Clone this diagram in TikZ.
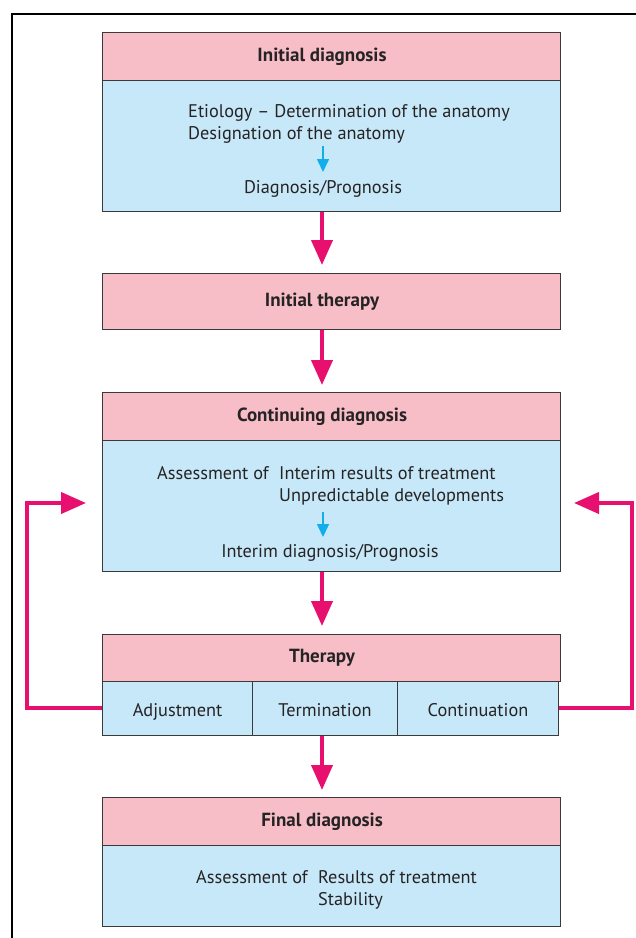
\documentclass[tikz,border=0pt]{standalone}
\usepackage{fontspec}
\setmainfont{PT Sans}
\usetikzlibrary{arrows.meta}
\definecolor{mag}{HTML}{E8106E}
\definecolor{pinkf}{HTML}{F7BEC8}
\definecolor{bluef}{HTML}{C7E8F8}
\definecolor{cyanar}{HTML}{12AEEA}
\definecolor{boxline}{HTML}{3A3A3A}
\definecolor{txt}{HTML}{262324}
\begin{document}
\begin{tikzpicture}[x=1pt,y=-1pt,
  hdr/.style={draw=boxline, fill=pinkf, line width=1.1pt, anchor=north west, inner sep=0pt,
     minimum width=458pt, minimum height=#1, text=txt, text height=13pt, text depth=4pt,
     execute at begin node={\hspace*{-19pt}},
     font=\fontsize{19}{22}\selectfont\bfseries},
  body/.style={draw=boxline, fill=bluef, line width=1.1pt, anchor=north west, inner sep=0pt,
     minimum width=458pt, minimum height=#1},
  cell/.style={draw=boxline, fill=bluef, line width=1.1pt, anchor=north west, inner sep=0pt,
     minimum height=54pt, text=txt, text height=17pt, text depth=1pt,
     font=\fontsize{18.3}{22}\selectfont},
  lbl/.style={inner sep=0pt, text=txt, font=\fontsize{18.3}{22}\selectfont},
  marr/.style={draw=mag, line width=4pt, -{Triangle[width=21pt,length=25pt]}},
  carr/.style={draw=cyanar, line width=1.6pt, -{Triangle[width=12pt,length=13pt]}}
]
\useasboundingbox (0,0) rectangle (636,938);
% frame
\draw[line width=1.3pt, black] (12,938) -- (12,14) -- (636,14);

% Box 1
\node[body=131pt] (b1) at (102,80) {};
\node[hdr=48pt] (h1) at (102,32) {Initial diagnosis};
\node[lbl, anchor=base west] (t1a) at (188,117) {Etiology – Determination of the anatomy};
\node[lbl, anchor=base west] (t1b) at (188,139) {Designation of the anatomy};
\node[lbl, anchor=base] (t1c) at (323,193) {Diagnosis/Prognosis};
\coordinate (c1s) at (323,146);
\coordinate (c1e) at (323,172);
\draw[carr] (c1s) -- (c1e);

% Box 2
\node[hdr=56pt] (h2) at (102,273) {Initial therapy};

% Box 3
\node[body=131pt] (b3) at (102,440) {};
\node[hdr=48pt] (h3) at (102,392) {Continuing diagnosis};
\node[lbl, anchor=base west] (t3a) at (157,479) {Assessment of};
\node[lbl, anchor=base west] (t3b) at (279,479) {Interim results of treatment};
\node[lbl, anchor=base west] (t3c) at (279,501) {Unpredictable developments};
\node[lbl, anchor=base] (t3d) at (330,557) {Interim diagnosis/Prognosis};
\coordinate (c3s) at (323,512);
\coordinate (c3e) at (323,537);
\draw[carr] (c3s) -- (c3e);

% Therapy
\node[hdr=47pt] (h4) at (102,634) {Therapy};
\node[cell, minimum width=150pt] (adj) at (102,681) {Adjustment};
\node[cell, minimum width=145pt] (ter) at (252,681) {Termination};
\node[cell, minimum width=161pt] (con) at (397,681) {Continuation};

% Final
\node[body=81pt] (b5) at (102,845) {};
\node[hdr=48pt] (h5) at (102,797) {Final diagnosis};
\node[lbl, anchor=base west] (t5a) at (196,883) {Assessment of};
\node[lbl, anchor=base west] (t5b) at (318,883) {Results of treatment};
\node[lbl, anchor=base west] (t5c) at (318,905) {Stability};

% main arrows
\draw[marr, shorten >=8pt] (b1.south -| 322,0) -- (h2.north -| 322,0);
\draw[marr, shorten >=7pt] (h2.south -| 322,0) -- (h3.north -| 322,0);
\draw[marr, shorten >=8pt] (b3.south -| 322,0) -- (h4.north -| 322,0);
\draw[marr, shorten >=7pt] (ter.south -| 322,0) -- (h5.north -| 322,0);

% loop arrows
\coordinate (ltip) at (86,503);
\coordinate (rtip) at (574,503);
\draw[marr] (adj.west |- 0,708) -- (27,708) -- (27,503) -- (ltip);
\draw[marr] (con.east |- 0,708) -- (632,708) -- (632,503) -- (rtip);
\end{tikzpicture}
\end{document}
